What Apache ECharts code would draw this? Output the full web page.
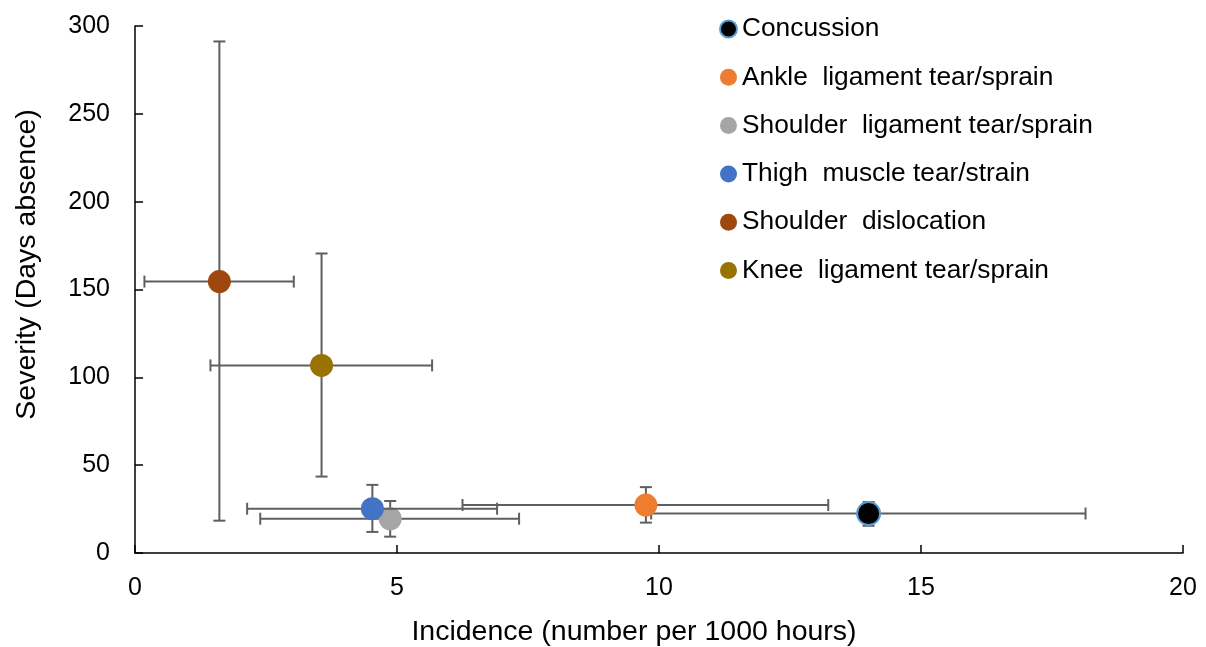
<!DOCTYPE html>
<html>
<head>
<meta charset="utf-8">
<script src="https://cdn.jsdelivr.net/npm/echarts@6/dist/echarts.min.js"></script>
<style>
html,body{margin:0;padding:0;background:#fff;}
#chart{width:1206px;height:647px;}
</style>
</head>
<body>
<div id="chart"></div>
<script>
const names = ['Concussion', 'Ankle  ligament tear/sprain', 'Shoulder  ligament tear/sprain', 'Thigh  muscle tear/strain', 'Shoulder  dislocation', 'Knee  ligament tear/sprain'];
const incidence = [14.0, 9.75, 4.87, 4.53, 1.61, 3.56];
const severity = [22.5, 27.3, 19.5, 25.2, 154.5, 106.8];
const incLow = [9.85, 6.25, 2.39, 2.14, 0.18, 1.44];
const incHigh = [18.14, 13.23, 7.33, 6.91, 3.03, 5.67];
const sevLow = [15.5, 17.3, 9.3, 12.0, 18.4, 43.5];
const sevHigh = [29.0, 37.5, 29.6, 38.8, 291.2, 170.5];
const xTicks = [0, 5, 10, 15, 20];
const yTicks = [0, 50, 100, 150, 200, 250, 300];

const colors = ['#000000', '#ED7D31', '#A5A5A5', '#4472C4', '#9E480E', '#997300'];
const errColor = '#5F5F5F';
const FONT = 'Liberation Sans, Arial, sans-serif';

function errRender(params, api) {
  const x = api.value(0), y = api.value(1);
  const xl = api.coord([api.value(2), y]);
  const xh = api.coord([api.value(3), y]);
  const yl = api.coord([x, api.value(4)]);
  const yh = api.coord([x, api.value(5)]);
  const cap = 6;
  const st = { stroke: errColor, lineWidth: 2 };
  const seg = (x1, y1, x2, y2) => ({ type: 'line', shape: { x1, y1, x2, y2 }, style: st });
  return {
    type: 'group',
    children: [
      seg(xl[0], xl[1], xh[0], xh[1]),
      seg(xl[0], xl[1] - cap, xl[0], xl[1] + cap),
      seg(xh[0], xh[1] - cap, xh[0], xh[1] + cap),
      seg(yl[0], yl[1], yh[0], yh[1]),
      seg(yl[0] - cap, yl[1], yl[0] + cap, yl[1]),
      seg(yh[0] - cap, yh[1], yh[0] + cap, yh[1])
    ]
  };
}

const series = [];
names.forEach((n, i) => {
  series.push({
    type: 'custom',
    name: 'err' + i,
    z: 10 + 2 * i,
    silent: true,
    clip: false,
    renderItem: errRender,
    encode: { x: [0, 2, 3], y: [1, 4, 5] },
    data: [[incidence[i], severity[i], incLow[i], incHigh[i], sevLow[i], sevHigh[i]]]
  });
  series.push({
    type: 'scatter',
    name: n,
    z: 11 + 2 * i,
    symbol: 'circle',
    symbolSize: 23,
    itemStyle: i === 0
      ? { color: colors[i], borderColor: '#5B9BD5', borderWidth: 2, opacity: 1 }
      : { color: colors[i], opacity: 1 },
    data: [[incidence[i], severity[i]]]
  });
});

const chart = echarts.init(document.getElementById('chart'));
chart.setOption({
  animation: false,
  backgroundColor: '#ffffff',
  textStyle: { fontFamily: FONT },
  grid: { left: 135, right: 23, top: 26, bottom: 94, containLabel: false, outerBoundsMode: 'none' },
  legend: {
    data: names,
    orient: 'vertical',
    left: 714,
    top: 11,
    itemWidth: 17,
    itemHeight: 17,
    itemGap: 22.3,
    icon: 'circle',
    textStyle: { fontSize: 26.3, color: '#000', fontFamily: FONT, lineHeight: 26 }
  },
  xAxis: {
    type: 'value',
    min: xTicks[0],
    max: xTicks[xTicks.length - 1],
    interval: 5,
    name: 'Incidence (number per 1000 hours)',
    nameLocation: 'middle',
    nameGap: 65,
    nameTextStyle: { fontSize: 28.5, color: '#000', fontFamily: FONT, padding: [0, 50, 0, 0] },
    axisLine: { lineStyle: { color: '#000', width: 1.5 } },
    axisTick: { inside: true, length: 8, lineStyle: { color: '#000', width: 1.5 } },
    axisLabel: { fontSize: 25, color: '#000', margin: 23, fontFamily: FONT },
    splitLine: { show: false }
  },
  yAxis: {
    type: 'value',
    min: yTicks[0],
    max: yTicks[yTicks.length - 1],
    interval: 50,
    name: 'Severity (Days absence)',
    nameLocation: 'middle',
    nameGap: 93,
    nameTextStyle: { fontSize: 28.5, color: '#000', fontFamily: FONT, padding: [0, 0, 0, 50] },
    axisLine: { show: true, lineStyle: { color: '#000', width: 1.5 } },
    axisTick: { show: true, inside: true, length: 8, lineStyle: { color: '#000', width: 1.5 } },
    axisLabel: { fontSize: 25, color: '#000', margin: 25, fontFamily: FONT },
    splitLine: { show: false }
  },
  series: series
});
</script>
</body>
</html>
